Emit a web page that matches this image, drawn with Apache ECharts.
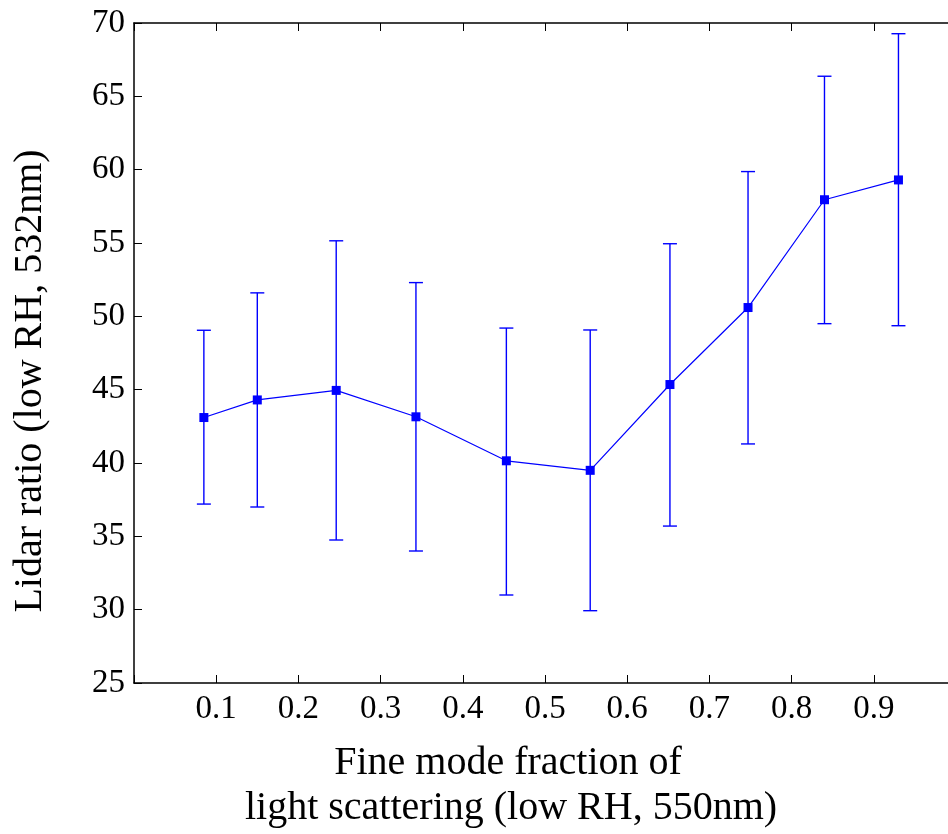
<!DOCTYPE html>
<html>
<head>
<meta charset="utf-8">
<script src="https://cdn.jsdelivr.net/npm/echarts@6/dist/echarts.min.js"></script>
<style>
html,body{margin:0;padding:0;background:#fff;}
#chart{width:948px;height:834px;}
</style>
</head>
<body>
<div id="chart"></div>
<script>
// Data
var fmf = [0.085, 0.150, 0.246, 0.343, 0.453, 0.555, 0.652, 0.747, 0.840, 0.930];
var lidarRatio = [43.1, 44.3, 44.95, 43.15, 40.15, 39.5, 45.35, 50.6, 57.95, 59.3];
var errHigh = [49.05, 51.6, 55.15, 52.3, 49.2, 49.07, 54.95, 59.87, 66.37, 69.27];
var errLow = [37.2, 37.0, 34.75, 34.0, 31.0, 29.93, 35.7, 41.3, 49.5, 49.36];
var xTitleLines = ['Fine mode fraction of', 'light scattering (low RH, 550nm)'];
var yTitle = 'Lidar ratio (low RH, 532nm)';

var FONT = '"Liberation Serif", "Times New Roman", serif';
var BLUE = '#0000ff';

var chart = echarts.init(document.getElementById('chart'), null, {renderer: 'canvas'});

var lineData = fmf.map(function (x, i) { return [x, lidarRatio[i]]; });
var errData = fmf.map(function (x, i) { return [x, errLow[i], errHigh[i]]; });

function axisCommon() {
  return {
    axisLine: {show: true, onZero: false, lineStyle: {color: '#000', width: 1.5}},
    axisTick: {show: true, inside: true, length: 8, lineStyle: {color: '#000', width: 1}},
    splitLine: {show: false}
  };
}

var xBottom = Object.assign(axisCommon(), {
  type: 'value', position: 'bottom', min: 0, max: 1, interval: 0.1,
  axisLabel: {
    show: true, color: '#000', fontFamily: FONT, fontSize: 33, margin: 10,
    formatter: function (v) { return (v > 0.001 && v < 0.999) ? v.toFixed(1) : ''; }
  }
});
var xTop = Object.assign(axisCommon(), {
  type: 'value', position: 'top', min: 0, max: 1, interval: 0.1,
  axisLabel: {show: false}
});
var yLeft = Object.assign(axisCommon(), {
  type: 'value', position: 'left', min: 25, max: 70, interval: 5,
  axisLabel: {show: true, color: '#000', fontFamily: FONT, fontSize: 33, margin: 9}
});
var yRight = Object.assign(axisCommon(), {
  type: 'value', position: 'right', min: 25, max: 70, interval: 5,
  axisLabel: {show: false}
});

chart.setOption({
  animation: false,
  backgroundColor: '#fff',
  grid: {left: 134, top: 23, width: 822, height: 660, containLabel: false, outerBoundsMode: 'none'},
  xAxis: [xBottom, xTop],
  yAxis: [yLeft, yRight],
  graphic: [
    {
      type: 'text', x: 30, y: 381, rotation: Math.PI / 2,
      style: {text: yTitle, fill: '#000', font: '40px ' + FONT, textAlign: 'center', textVerticalAlign: 'middle'}
    },
    {
      type: 'text', x: 508, y: 763,
      style: {text: xTitleLines[0], fill: '#000', font: '40px ' + FONT, textAlign: 'center', textVerticalAlign: 'middle'}
    },
    {
      type: 'text', x: 511, y: 808,
      style: {text: xTitleLines[1], fill: '#000', font: '40px ' + FONT, textAlign: 'center', textVerticalAlign: 'middle'}
    }
  ],
  series: [
    {
      type: 'custom',
      xAxisIndex: 0, yAxisIndex: 0,
      z: 2,
      data: errData,
      encode: {x: 0, y: [1, 2]},
      renderItem: function (params, api) {
        var x = api.value(0);
        var lo = api.coord([x, api.value(1)]);
        var hi = api.coord([x, api.value(2)]);
        var hw = 7;
        var st = {stroke: BLUE, lineWidth: 1.4, fill: null};
        return {
          type: 'group',
          children: [
            {type: 'line', shape: {x1: lo[0], y1: lo[1], x2: hi[0], y2: hi[1]}, style: st},
            {type: 'line', shape: {x1: hi[0] - hw, y1: hi[1], x2: hi[0] + hw, y2: hi[1]}, style: st},
            {type: 'line', shape: {x1: lo[0] - hw, y1: lo[1], x2: lo[0] + hw, y2: lo[1]}, style: st}
          ]
        };
      }
    },
    {
      type: 'line',
      xAxisIndex: 0, yAxisIndex: 0,
      z: 3,
      data: lineData,
      symbol: 'rect',
      symbolSize: 9,
      showAllSymbol: true,
      lineStyle: {color: BLUE, width: 1.2},
      itemStyle: {color: BLUE, borderWidth: 0}
    }
  ]
});
</script>
</body>
</html>
